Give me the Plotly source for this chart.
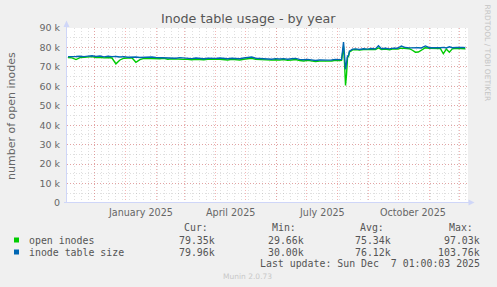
import plotly.graph_objects as go
import pandas as pd

# ---------------- data (values in thousands) ----------------
dates = [
    "2024-11-04", "2024-11-08", "2024-11-12", "2024-11-16", "2024-11-20", "2024-11-24", "2024-11-28",
    "2024-12-02", "2024-12-06", "2024-12-10", "2024-12-14", "2024-12-18", "2024-12-22", "2024-12-26", "2024-12-30",
    "2025-01-03", "2025-01-07", "2025-01-11", "2025-01-15", "2025-01-19", "2025-01-23", "2025-01-27", "2025-01-31",
    "2025-02-04", "2025-02-08", "2025-02-12", "2025-02-16", "2025-02-20", "2025-02-24", "2025-02-28",
    "2025-03-04", "2025-03-08", "2025-03-12", "2025-03-16", "2025-03-20", "2025-03-24", "2025-03-28",
    "2025-04-01", "2025-04-05", "2025-04-09", "2025-04-13", "2025-04-17", "2025-04-21", "2025-04-25", "2025-04-29",
    "2025-05-03", "2025-05-07", "2025-05-11", "2025-05-15", "2025-05-19", "2025-05-23", "2025-05-27", "2025-05-31",
    "2025-06-04", "2025-06-08", "2025-06-12", "2025-06-16", "2025-06-20", "2025-06-24", "2025-06-28",
    "2025-07-02", "2025-07-06", "2025-07-10", "2025-07-14", "2025-07-18", "2025-07-22", "2025-07-26", "2025-07-30",
    "2025-08-03", "2025-08-05", "2025-08-06", "2025-08-07", "2025-08-08", "2025-08-09", "2025-08-10", "2025-08-11",
    "2025-08-12", "2025-08-13", "2025-08-14", "2025-08-16", "2025-08-19", "2025-08-23", "2025-08-27", "2025-08-31",
    "2025-09-04", "2025-09-08", "2025-09-11", "2025-09-14", "2025-09-18", "2025-09-22", "2025-09-26", "2025-09-30",
    "2025-10-04", "2025-10-08", "2025-10-12", "2025-10-15", "2025-10-18", "2025-10-21", "2025-10-24", "2025-10-28",
    "2025-11-01", "2025-11-05", "2025-11-09", "2025-11-12", "2025-11-15", "2025-11-18", "2025-11-21", "2025-11-24", "2025-11-28",
    "2025-12-02", "2025-12-05", "2025-12-07",
]

open_inodes = [
    74.9, 74.7, 73.8, 74.8, 75.0, 75.1, 75.3,
    74.9, 75.0, 74.7, 74.9, 74.6, 71.6, 73.6, 74.5,
    74.6, 74.7, 72.4, 73.8, 74.4, 74.3, 74.5, 74.4,
    74.2, 74.5, 74.0, 74.2, 74.0, 74.1, 73.9,
    74.0, 73.7, 74.0, 73.8, 73.7, 73.9, 73.8,
    73.9, 74.0, 73.7, 73.6, 73.9, 73.8, 73.6, 74.0,
    74.4, 74.5, 73.9, 73.7, 73.6, 73.5, 73.5, 73.7,
    73.5, 73.8, 73.4, 73.6, 73.8, 73.3, 73.1,
    73.4, 73.0, 72.8, 73.0, 72.9, 73.0, 73.1, 73.4,
    73.3, 73.4, 77.0, 80.5, 72.0, 60.5, 66.0, 74.8,
    75.4, 77.8, 78.0, 78.8, 79.0, 78.7, 79.0, 78.9,
    79.1, 79.0, 79.8, 79.0, 79.2, 78.9, 79.3, 79.2,
    79.7, 79.6, 79.4, 78.6, 77.6, 77.7, 78.8, 79.9,
    79.6, 79.5, 79.4, 79.5, 76.8, 79.2, 77.6, 79.3, 79.6,
    79.4, 79.5, 79.35,
]

table_size = [
    75.3, 75.2, 75.4, 75.5, 75.3, 75.6, 75.8,
    75.4, 75.6, 75.2, 75.5, 75.3, 75.4, 75.1, 75.3,
    75.0, 75.2, 75.1, 74.9, 75.0, 74.8, 75.1, 74.9,
    74.8, 75.0, 74.6, 74.7, 74.5, 74.8, 74.6,
    74.5, 74.3, 74.6, 74.4, 74.2, 74.5, 74.3,
    74.4, 74.6, 74.3, 74.2, 74.5, 74.4, 74.2, 74.6,
    75.0, 75.1, 74.5, 74.3, 74.4, 74.2, 74.0, 74.3,
    74.1, 74.3, 74.0, 74.2, 74.4, 73.9, 73.7,
    73.9, 73.5, 73.3, 73.6, 73.4, 73.5, 73.6, 73.9,
    73.8, 73.9, 78.0, 82.8, 76.0, 68.8, 72.0, 75.6,
    76.0, 78.3, 78.4, 79.2, 79.3, 79.0, 79.4, 79.2,
    79.5, 79.3, 80.9, 79.4, 79.6, 79.3, 79.7, 79.6,
    80.8, 80.0, 79.8, 79.9, 80.0, 79.9, 79.8, 80.8,
    79.9, 79.8, 79.7, 79.9, 80.1, 79.8, 80.4, 79.9, 80.0,
    79.8, 80.0, 79.96,
]

series_names = ["open inodes", "inode table size"]
series_colors = ["#00CC00", "#0066B3"]
stats_cur = ["79.35k", "79.96k"]
stats_min = ["29.66k", "30.00k"]
stats_avg = ["75.34k", "76.12k"]
stats_max = ["97.03k", "103.76k"]

y_tickvals = [0, 10, 20, 30, 40, 50, 60, 70, 80, 90]
y_ticktext = ["0", "10 k", "20 k", "30 k", "40 k", "50 k", "60 k", "70 k", "80 k", "90 k"]
month_label_dates = ["2025-01-16", "2025-04-16", "2025-07-16", "2025-10-16"]
month_label_text = ["January 2025", "April 2025", "July 2025", "October 2025"]
month_starts = list(pd.date_range("2024-12-01", "2025-12-01", freq="MS"))

title_text = "Inode table usage - by year"
y_title = "number of open inodes"
last_update = "Last update: Sun Dec \u00a07 01:00:03 2025"
munin_version = "Munin 2.0.73"
watermark = "RRDTOOL / TOBI OETIKER"

# ---------------- layout geometry (pixels) ----------------
FW, FH = 497, 287
L, R, T, B = 67, 468, 28, 203


def px(xp):
    return (xp - L) / (R - L)


def py(yp):
    return (B - yp) / (B - T)


MGRID = "rgba(230,90,90,0.45)"
GRID = "rgba(150,150,150,0.30)"
DASH = "1px,2px"
AXIS = "#CFD6F8"
FONT = "#666666"
MONO = "DejaVu Sans Mono"
SANS = "DejaVu Sans"

fig = go.Figure()
fig.add_trace(go.Scatter(x=dates, y=open_inodes, mode="lines",
                         line=dict(color=series_colors[0], width=1.4), hoverinfo="skip"))
fig.add_trace(go.Scatter(x=dates, y=table_size, mode="lines",
                         line=dict(color=series_colors[1], width=1.4), hoverinfo="skip"))

fig.update_layout(
    width=FW, height=FH,
    margin=dict(l=L, r=FW - R, t=T, b=FH - B, pad=0),
    paper_bgcolor="#F0F0F0", plot_bgcolor="#FFFFFF",
    showlegend=False,
    font=dict(family=SANS, color=FONT, size=10),
    xaxis=dict(
        type="date",
        range=["2024-11-02 23:00", "2025-12-09 17:00"],
        tickmode="array", tickvals=month_starts, showticklabels=False, ticks="",
        showgrid=True, gridcolor=MGRID, griddash=DASH, gridwidth=1,
        minor=dict(tickmode="linear", tick0="2024-11-03", dtick=7 * 86400000,
                   showgrid=True, gridcolor=GRID, griddash=DASH, gridwidth=1, ticks=""),
        zeroline=False, showline=False, fixedrange=True,
    ),
    yaxis=dict(
        range=[0, 90.05],
        tickmode="array", tickvals=y_tickvals, ticktext=y_ticktext,
        tickfont=dict(family=SANS, size=9.5, color=FONT),
        ticks="", ticklabelstandoff=6,
        showgrid=True, gridcolor=MGRID, griddash=DASH, gridwidth=1,
        minor=dict(tickmode="linear", tick0=0, dtick=5,
                   showgrid=True, gridcolor=GRID, griddash=DASH, gridwidth=1, ticks=""),
        zeroline=False, showline=False, fixedrange=True,
    ),
)

shapes = []
# axis lines
shapes.append(dict(type="line", xref="paper", yref="paper",
                   x0=px(66.5), x1=px(66.5), y0=py(203), y1=py(24),
                   line=dict(color=AXIS, width=1), layer="above"))
shapes.append(dict(type="line", xref="paper", yref="paper",
                   x0=px(64), x1=px(470), y0=py(202.5), y1=py(202.5),
                   line=dict(color=AXIS, width=1), layer="above"))
# arrows
shapes.append(dict(type="path", xref="paper", yref="paper",
                   path=f"M {px(63.5)} {py(27)} L {px(69.5)} {py(27)} L {px(66.5)} {py(20.5)} Z",
                   fillcolor=AXIS, line=dict(color=AXIS, width=0), layer="above"))
shapes.append(dict(type="path", xref="paper", yref="paper",
                   path=f"M {px(468.5)} {py(199.5)} L {px(468.5)} {py(205.5)} L {px(474.5)} {py(202.5)} Z",
                   fillcolor=AXIS, line=dict(color=AXIS, width=0), layer="above"))
# legend squares
for i, yy in enumerate([240, 252]):
    shapes.append(dict(type="rect", xref="paper", yref="paper",
                       x0=px(14), x1=px(19), y0=py(yy - 2.5), y1=py(yy + 2.5),
                       fillcolor=series_colors[i], line=dict(width=0)))
fig.update_layout(shapes=shapes)

ann = []
ann.append(dict(text=title_text, xref="paper", yref="paper", x=px(248.7), y=py(18.5),
                xanchor="center", yanchor="middle", showarrow=False,
                font=dict(family=SANS, size=12.7, color="#555555")))
ann.append(dict(text=y_title, xref="paper", yref="paper", x=px(11.5), y=py(115.5),
                xanchor="center", yanchor="middle", textangle=-90, showarrow=False,
                font=dict(family=SANS, size=11, color=FONT)))
ann.append(dict(text=watermark, xref="paper", yref="paper", x=px(487.5), y=py(53),
                xanchor="center", yanchor="middle", textangle=90, showarrow=False,
                font=dict(family=SANS, size=7.5, color="#C4C4C4")))
for d, t in zip(month_label_dates, month_label_text):
    ann.append(dict(text=t, xref="x", yref="paper", x=d, y=py(212.5),
                    xanchor="center", yanchor="middle", showarrow=False,
                    font=dict(family=SANS, size=9.6, color=FONT)))

legend_font = dict(family=MONO, size=9.9, color="#555555")
headers = ["Cur:", "Min:", "Avg:", "Max:"]
header_x = [181.7, 270.0, 358.3, 446.7]
for h, hx in zip(headers, header_x):
    ann.append(dict(text=h, xref="paper", yref="paper", x=px(hx), y=py(227.3),
                    xanchor="left", yanchor="middle", showarrow=False, font=legend_font))
for i, yy in enumerate([240, 252]):
    ann.append(dict(text=series_names[i], xref="paper", yref="paper", x=px(26.7), y=py(yy),
                    xanchor="left", yanchor="middle", showarrow=False, font=legend_font))
    for vals, vx in zip([stats_cur, stats_min, stats_avg, stats_max], [216.7, 305.7, 393.3, 482.3]):
        ann.append(dict(text=vals[i], xref="paper", yref="paper", x=px(vx), y=py(yy),
                        xanchor="right", yanchor="middle", showarrow=False, font=legend_font))
ann.append(dict(text=last_update, xref="paper", yref="paper", x=px(482.3), y=py(263.3),
                xanchor="right", yanchor="middle", showarrow=False, font=legend_font))
ann.append(dict(text=munin_version, xref="paper", yref="paper", x=px(247.7), y=py(276),
                xanchor="center", yanchor="middle", showarrow=False,
                font=dict(family=SANS, size=7.5, color="#C8C8C8")))
fig.update_layout(annotations=ann)

fig.write_html("out.html", config={"displayModeBar": False, "staticPlot": True})
